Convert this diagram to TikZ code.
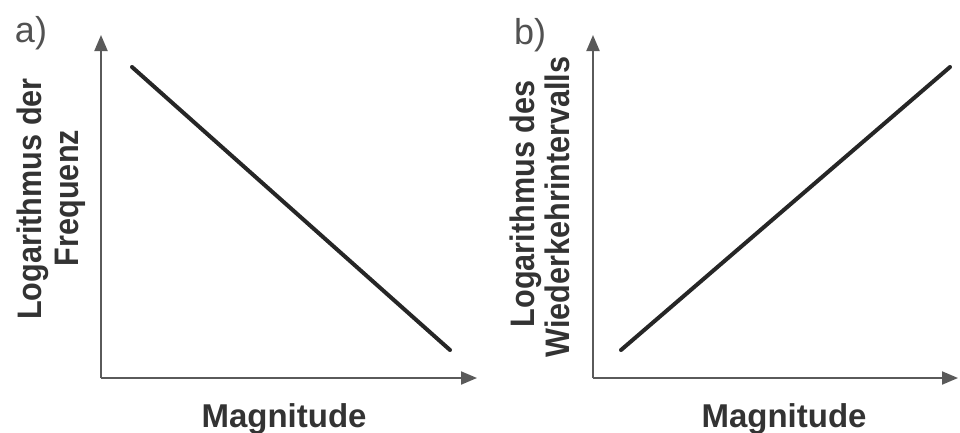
\documentclass[tikz,border=0pt]{standalone}
\usepackage{fontspec}
\setmainfont{Liberation Sans}
\usetikzlibrary{arrows.meta}
\definecolor{axisgray}{HTML}{5A5A5A}
\definecolor{linedark}{HTML}{262626}
\definecolor{textdark}{HTML}{333333}
\tikzset{
  axis/.style={draw=axisgray, line width=2pt, -{Triangle[length=16pt,width=13pt]}},
  trend/.style={draw=linedark, line width=4pt, line cap=round},
  panellabel/.style={font=\fontsize{36}{36}\selectfont, text=textdark!85, inner sep=0pt},
  ylab/.style={font=\fontsize{34}{34}\selectfont\bfseries, text=textdark, rotate=90, anchor=base, inner sep=0pt},
  xlab/.style={font=\fontsize{33}{33}\selectfont\bfseries, text=textdark, anchor=base, inner sep=0pt}
}
\begin{document}
\begin{tikzpicture}[x=1pt,y=-1pt]
\useasboundingbox (0,0) rectangle (960,432);
% panel a
\coordinate (oa) at (101,378);
\coordinate (ya) at (101,35);
\coordinate (xa) at (477,378);
\coordinate (la1) at (132,67);
\coordinate (la2) at (450,350);
\node[panellabel] (pa) at (31,33) {a)};
\draw[axis] (oa) -- (ya);
\draw[axis] (oa) -- (xa);
\draw[trend] (la1) -- (la2);
\node[ylab] (ya1) at (41,199) {\scalebox{0.9}[1]{Logarithmus der}};
\node[ylab] (ya2) at (78,198) {\scalebox{0.9}[1]{Frequenz}};
\node[xlab] (xla) at (284,427) {Magnitude};
% panel b
\coordinate (ob) at (593,378);
\coordinate (yb) at (593,35);
\coordinate (xb) at (958,378);
\coordinate (lb1) at (621,350);
\coordinate (lb2) at (950,67);
\node[panellabel] (pb) at (530,35) {b)};
\draw[axis] (ob) -- (yb);
\draw[axis] (ob) -- (xb);
\draw[trend] (lb1) -- (lb2);
\node[ylab] (yb1) at (534,204) {\scalebox{0.9}[1]{Logarithmus des}};
\node[ylab] (yb2) at (569,207) {\scalebox{0.9}[1]{Wiederkehrintervalls}};
\node[xlab] (xlb) at (784,427) {Magnitude};
\end{tikzpicture}
\end{document}
